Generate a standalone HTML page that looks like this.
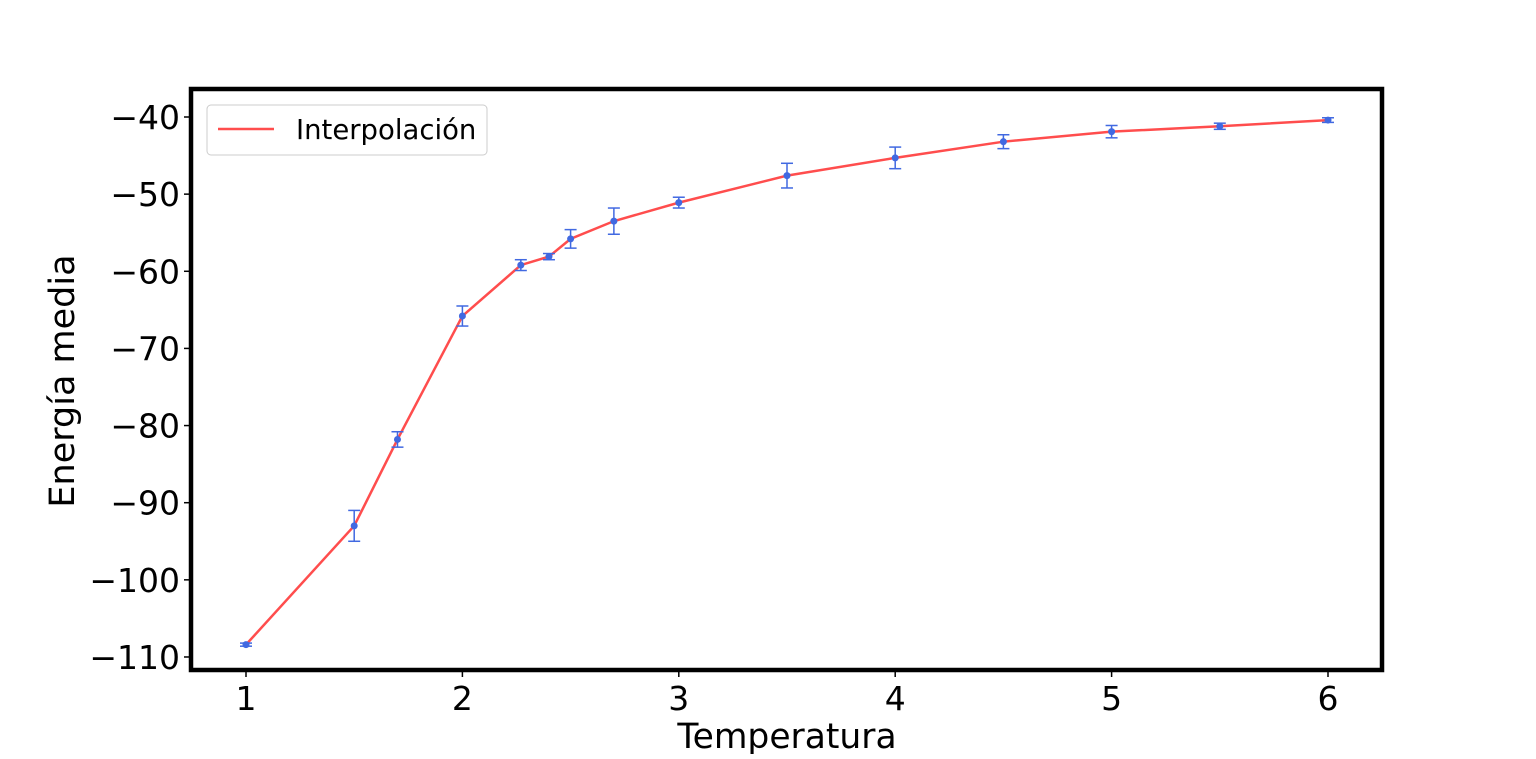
<!DOCTYPE html>
<html><head><meta charset="utf-8"><style>
body{margin:0;background:#fff;}
svg text{font-family:"DejaVu Sans","Liberation Sans",sans-serif;}
</style></head><body>
<svg id="chart" width="1536" height="754" xmlns="http://www.w3.org/2000/svg">
<g id="marks"></g>
<rect x="191" y="89" width="1191" height="581" fill="none" stroke="#000" stroke-width="4.5"/>
<g id="xticks"></g><g id="yticks"></g>
<text x="787" y="748" font-size="34.5" text-anchor="middle">Temperatura</text>
<text transform="translate(74,381) rotate(-90)" font-size="35" text-anchor="middle">Energía media</text>
<g>
<rect x="207" y="105" width="280" height="50" rx="4" fill="#fff" stroke="#ccc"/>
<line x1="218" y1="129" x2="274" y2="129" stroke="#ff4d4d" stroke-width="2.5"/>
<text x="296" y="139" font-size="27.5">Interpolación</text>
</g>
</svg>
<script>
const temps=[1,1.5,1.7,2,2.27,2.4,2.5,2.7,3,3.5,4,4.5,5,5.5,6];
const energies=[-108.4,-93.0,-81.8,-65.8,-59.2,-58.1,-55.8,-53.5,-51.1,-47.6,-45.3,-43.2,-41.9,-41.2,-40.4];
const errors=[0.2,2.0,1.0,1.3,0.7,0.4,1.2,1.7,0.7,1.6,1.4,0.9,0.8,0.4,0.3];
const xTicks=[1,2,3,4,5,6];
const yTicks=[-40,-50,-60,-70,-80,-90,-100,-110];
const X=v=>246+(v-1)*216.4;
const Y=v=>117+(-40-v)*7.714;
const NS="http://www.w3.org/2000/svg";
const marks=document.getElementById('marks');
function mk(tag,attrs,parent){const e=document.createElementNS(NS,tag);for(const k in attrs)e.setAttribute(k,attrs[k]);parent.appendChild(e);return e;}
const pl=mk('polyline',{points:temps.map((t,i)=>X(t)+','+Y(energies[i])).join(' '),fill:'none',stroke:'#ff4d4d','stroke-width':2.5},marks);


temps.forEach((t,i)=>{
  const g=mk('g',{stroke:'#4169e1','stroke-width':1.5},marks);
  
  
  const x=X(t),y1=Y(energies[i]+errors[i]),y2=Y(energies[i]-errors[i]);
  mk('line',{x1:x,x2:x,y1:y1,y2:y2},g);
  mk('line',{x1:x-6,x2:x+6,y1:y1,y2:y1},g);
  mk('line',{x1:x-6,x2:x+6,y1:y2,y2:y2},g);
  const c=mk('circle',{cx:x,cy:Y(energies[i]),r:3.5,fill:'#4169e1',stroke:'none'},marks);
  
  
});
const xg=document.getElementById('xticks'),yg=document.getElementById('yticks');
xTicks.forEach(v=>{
  const l=mk('line',{x1:X(v),x2:X(v),y1:670,y2:677,stroke:'#000','stroke-width':1.5},xg);
  
  
  const t=mk('text',{x:X(v),y:710,'font-size':33,'text-anchor':'middle'},xg);
  t.textContent=v;
  
  
});
yTicks.forEach(v=>{
  const l=mk('line',{x1:184,x2:191,y1:Y(v),y2:Y(v),stroke:'#000','stroke-width':1.5},yg);
  
  
  const t=mk('text',{x:180,y:Y(v)+12,'font-size':33,'text-anchor':'end'},yg);
  t.textContent='\u2212'+Math.abs(v);
  
  
});
</script>
</body></html>
